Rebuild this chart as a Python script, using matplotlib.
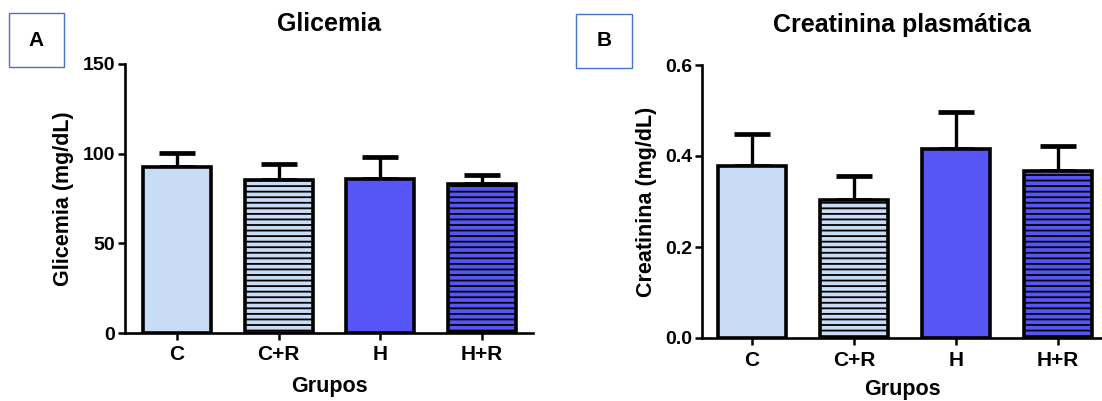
import matplotlib
matplotlib.use("Agg")
import matplotlib.pyplot as plt
from matplotlib.patches import Rectangle

plt.rcParams['font.family'] = ['Liberation Sans', 'DejaVu Sans']
plt.rcParams['font.weight'] = 'bold'
plt.rcParams['hatch.linewidth'] = 1.3
plt.rcParams['hatch.color'] = 'black'

groups = ["C", "C+R", "H", "H+R"]
glic_mean = [92.3, 85.5, 86.0, 83.0]
glic_err = [8.2, 8.5, 12.2, 5.2]
crea_mean = [0.379, 0.304, 0.416, 0.367]
crea_err = [0.070, 0.053, 0.080, 0.056]

colors = ["#C8DCF6", "#C8DCF6", "#5656F7", "#5656F7"]
hatches = [None, "---", None, "---"]

W, H = 1102, 401
fig = plt.figure(figsize=(W / 100, H / 100), dpi=100)


def px_axes(x0, x1, ytop, ybot):
    return fig.add_axes([x0 / W, (H - ybot) / H, (x1 - x0) / W, (ybot - ytop) / H])


def draw(ax, means, errs, yticks, ylabels, ylim, xlim, title, ylabel, xlabelpad):
    x = list(range(len(groups)))
    ax.errorbar(x, means, yerr=[[0] * len(errs), errs], fmt='none', ecolor='black',
                elinewidth=2.4, capsize=13, capthick=3.4, zorder=1)
    for i in x:
        ax.bar(i, means[i], width=0.67, color=colors[i], edgecolor='black',
               linewidth=2.6, hatch=hatches[i], zorder=2)
    ax.set_xlim(*xlim)
    ax.set_ylim(*ylim)
    ax.set_yticks(yticks)
    ax.set_yticklabels(ylabels)
    ax.set_xticks(x)
    ax.set_xticklabels(groups)
    for s in ['top', 'right']:
        ax.spines[s].set_visible(False)
    for s in ['left', 'bottom']:
        ax.spines[s].set_linewidth(1.9)
    ax.tick_params(axis='y', length=5, width=1.8, labelsize=14, pad=2)
    ax.tick_params(axis='x', length=5, width=1.8, labelsize=15, pad=4)
    for lab in ax.get_xticklabels() + ax.get_yticklabels():
        lab.set_fontweight('bold')
    ax.set_title(title, fontsize=18, fontweight='bold', pad=24)
    ax.set_xlabel("Grupos", fontsize=15.5, fontweight='bold', labelpad=xlabelpad)
    ax.set_ylabel(ylabel, fontsize=15.5, fontweight='bold', labelpad=6)


axA = px_axes(125, 533, 64, 333)
draw(axA, glic_mean, glic_err, [0, 50, 100, 150], ["0", "50", "100", "150"],
     (0, 150), (-0.51, 3.5), "Glicemia", "Glicemia (mg/dL)", 8)

axB = px_axes(702, 1102, 65, 338)
draw(axB, crea_mean, crea_err, [0, 0.2, 0.4, 0.6], ["0.0", "0.2", "0.4", "0.6"],
     (0, 0.6), (-0.49, 3.43), "Creatinina plasmática", "Creatinina (mg/dL)", 7)

# Panel letter boxes
for (x0, y0, x1, y1, letter) in [(9, 13, 64, 67, "A"), (576, 14, 632, 68, "B")]:
    fig.patches.append(Rectangle((x0 / W, (H - y1) / H), (x1 - x0) / W, (y1 - y0) / H,
                                 transform=fig.transFigure, fill=False,
                                 edgecolor="#4A72C2", linewidth=1.0))
    fig.text((x0 + x1) / 2 / W, (H - (y0 + y1) / 2) / H, letter, ha='center', va='center',
             fontsize=15, fontweight='bold')

fig.savefig("out.png", dpi=100)
